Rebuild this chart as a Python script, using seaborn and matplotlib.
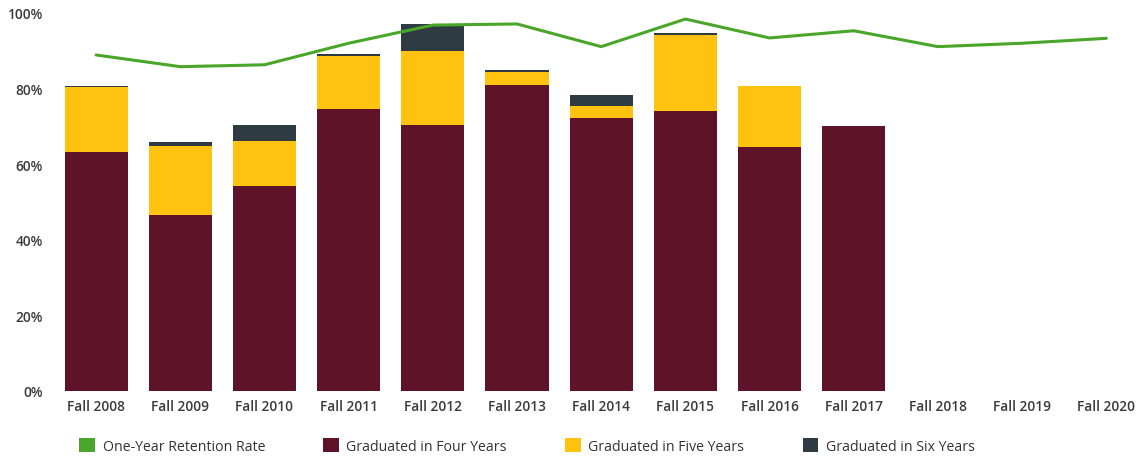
import numpy as np
import pandas as pd
import matplotlib
matplotlib.use("Agg")
import matplotlib.pyplot as plt
from matplotlib.patches import Patch
import seaborn as sns

# Cohort data (percent of entering class)
cohorts = ["Fall 2008", "Fall 2009", "Fall 2010", "Fall 2011", "Fall 2012",
           "Fall 2013", "Fall 2014", "Fall 2015", "Fall 2016", "Fall 2017",
           "Fall 2018", "Fall 2019", "Fall 2020"]
retention = [88.9, 85.8, 86.3, 92.0, 96.8, 97.1, 91.1, 98.4, 93.4, 95.3, 91.1, 92.0, 93.3]
grad_four = [63.2, 46.6, 54.2, 74.6, 70.4, 81.0, 72.1, 74.2, 64.5, 70.0, np.nan, np.nan, np.nan]
grad_five = [17.2, 18.3, 12.0, 14.1, 19.6, 3.5, 3.2, 20.0, 16.1, np.nan, np.nan, np.nan, np.nan]
grad_six = [0.4, 1.0, 4.2, 0.5, 7.1, 0.5, 3.1, 0.4, np.nan, np.nan, np.nan, np.nan, np.nan]

labels = ["One-Year Retention Rate", "Graduated in Four Years",
          "Graduated in Five Years", "Graduated in Six Years"]
colors = ["#4aa62a", "#5e1329", "#ffc20e", "#2e3b42"]

df = pd.DataFrame({
    "cohort": cohorts,
    "retention": retention,
    "four": grad_four,
    "five": grad_five,
    "six": grad_six,
})
# Cumulative heights for stacking
df["cum_four"] = df["four"]
df["cum_five"] = df["four"] + df["five"].fillna(0)
df["cum_six"] = df["cum_five"] + df["six"].fillna(0)
df.loc[df["four"].isna(), ["cum_five", "cum_six"]] = np.nan

sns.set_theme(style="white")
plt.rcParams["font.family"] = ["Open Sans", "DejaVu Sans"]

fig = plt.figure(figsize=(11.43, 4.6), dpi=100)
W, H = 1143, 460
left, right, bottom, top = 54, 1140, 392, 14
ax = fig.add_axes([left / W, (H - bottom) / H, (right - left) / W, (bottom - top) / H])

# Stacked bars drawn from the tallest cumulative layer down
for col, color in [("cum_six", colors[3]), ("cum_five", colors[2]), ("cum_four", colors[1])]:
    sns.barplot(data=df, x="cohort", y=col, order=cohorts, color=color,
                width=0.75, saturation=1, ax=ax, errorbar=None, linewidth=0)

sns.lineplot(x=np.arange(len(cohorts)), y=df["retention"], color=colors[0],
             linewidth=2.2, ax=ax, clip_on=False, zorder=5)

ax.set_xlim(-0.5, 12.4)
ax.set_ylim(0, 100)
ax.set_yticks([0, 20, 40, 60, 80, 100])
ax.set_yticklabels(["0%", "20%", "40%", "60%", "80%", "100%"])
ax.set_xticks(range(len(cohorts)))
ax.set_xticklabels(cohorts)
ax.set_xlabel("")
ax.set_ylabel("")
ax.tick_params(axis="both", length=0, labelsize=9.8, labelcolor="#3a3a3a")
ax.tick_params(axis="x", pad=6)
ax.tick_params(axis="y", pad=8)
for lab in ax.get_xticklabels() + ax.get_yticklabels():
    lab.set_fontweight("semibold")
sns.despine(ax=ax, left=True, bottom=True)

handles = [Patch(facecolor=c, edgecolor="none") for c in colors]
fig.legend(handles, labels, loc="center", bbox_to_anchor=(527 / W, (H - 447) / H),
           ncol=4, frameon=False, handlelength=1.1, handleheight=1.1,
           handletextpad=0.55, columnspacing=4.1, fontsize=10.2,
           labelcolor="#333333")

fig.savefig("out.png", dpi=100)
